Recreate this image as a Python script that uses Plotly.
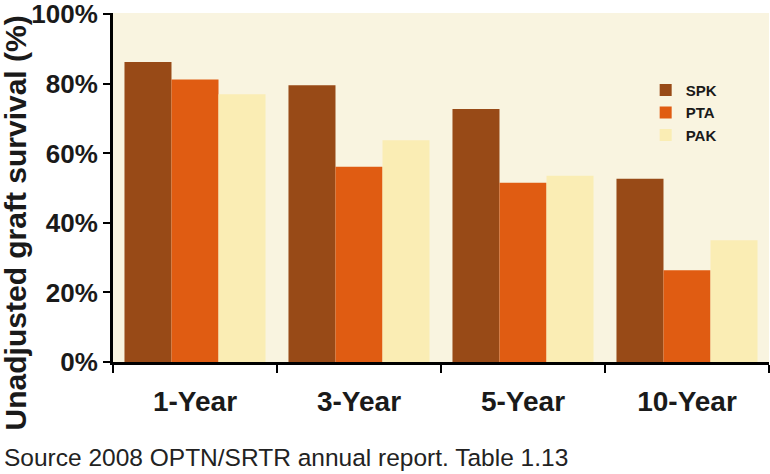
import plotly.graph_objects as go

periods = ["1-Year", "3-Year", "5-Year", "10-Year"]
spk = [86.3, 79.6, 72.8, 52.7]
pta = [81.3, 56.2, 51.6, 26.4]
pak = [77.0, 63.8, 53.6, 35.0]
y_ticks = [0, 20, 40, 60, 80, 100]
y_labels = [f"{v}%" for v in y_ticks]

series = [("SPK", spk, "#984A17"), ("PTA", pta, "#E05C12"), ("PAK", pak, "#FAEDB4")]

fig = go.Figure()
for name, vals, col in series:
    fig.add_trace(go.Bar(x=periods, y=vals, name=name, marker=dict(color=col, line=dict(width=0))))

fig.update_layout(
    width=770, height=474,
    margin=dict(l=113, r=1, t=13, b=112),
    paper_bgcolor="white",
    plot_bgcolor="#F9F4E0",
    barmode="group",
    bargap=0.14,
    bargroupgap=0,
    font=dict(family="Liberation Sans, Arial, sans-serif", color="#1a1a1a"),
    legend=dict(x=0.812, y=0.826, xanchor="left", yanchor="top",
                bgcolor="rgba(0,0,0,0)", font=dict(size=15, family="Liberation Sans", weight="bold"),
                tracegroupgap=0),
    showlegend=True,
)
fig.update_xaxes(
    range=[-0.5, 3.5], showline=True, linecolor="black", linewidth=3,
    ticks="outside", tickson="boundaries", ticklen=8, tickwidth=2, tickcolor="black",
    tickfont=dict(size=28, weight="bold"), ticklabelstandoff=12,
    showgrid=False, automargin=False,
)
fig.update_yaxes(
    range=[0, 100.4], tickvals=y_ticks, ticktext=y_labels,
    showline=True, linecolor="black", linewidth=3,
    ticks="outside", ticklen=7, tickwidth=2, tickcolor="black",
    tickfont=dict(size=26, weight="bold"), showgrid=False, zeroline=False,
    automargin=False, ticklabeloverflow="allow",
)
fig.add_annotation(
    text="Unadjusted graft survival (%)", textangle=-90,
    xref="paper", yref="paper", x=-0.1494, y=0.40, xanchor="center", yanchor="middle",
    showarrow=False, font=dict(size=30, weight="bold", color="#1a1a1a"),
)
fig.add_annotation(
    text="Source 2008 OPTN/SRTR annual report. Table 1.13",
    xref="paper", yref="paper", x=-0.169, y=-0.275, xanchor="left", yanchor="middle",
    showarrow=False, font=dict(size=24.5, color="#222222"),
)

fig.write_html("out.html", config={"displayModeBar": False},
               post_script="document.body.style.margin='0';")
